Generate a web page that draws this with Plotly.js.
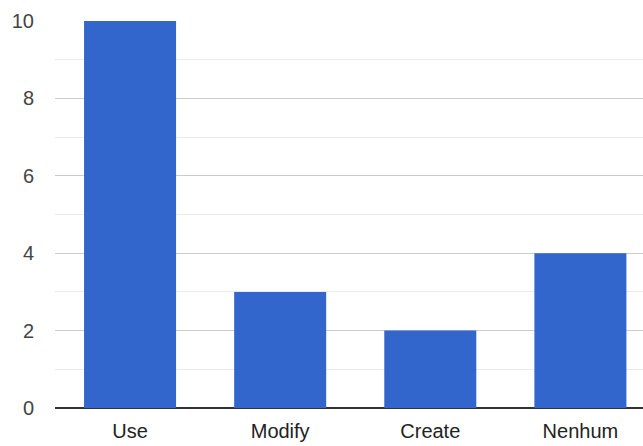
<!DOCTYPE html>
<html>
<head>
<meta charset="utf-8">
<script src="https://cdn.plot.ly/plotly-3.0.1.min.js"></script>
<style>
  html, body { margin: 0; padding: 0; background: #fff; }
  #chart { width: 643px; height: 446px; }
</style>
</head>
<body>
<div id="chart"></div>
<script>
// Categories and counts per answer
const categories = ["Use", "Modify", "Create", "Nenhum"];
const counts = [10, 3, 2, 4];
const yTicks = [0, 2, 4, 6, 8, 10];

const trace = {
  type: "bar",
  x: categories,
  y: counts,
  marker: { color: "#3366cc", line: { width: 0 } },
  hoverinfo: "x+y"
};

const layout = {
  width: 643,
  height: 446,
  margin: { l: 55, r: 0, t: 21, b: 38, pad: 0 },
  paper_bgcolor: "#ffffff",
  plot_bgcolor: "#ffffff",
  showlegend: false,
  bargap: 0.387,
  font: { family: "Liberation Sans, Arial, sans-serif", size: 20, color: "#444444" },
  xaxis: {
    type: "category",
    range: [-0.5, 3.417],
    showgrid: false,
    zeroline: false,
    showline: false,
    ticks: "",
    ticklabelstandoff: 9,
    tickfont: { size: 20, color: "#222222" },
    fixedrange: true
  },
  yaxis: {
    range: [0, 10],
    tickvals: yTicks,
    ticktext: yTicks.map(String),
    showgrid: true,
    gridcolor: "#cccccc",
    gridwidth: 1,
    minor: { dtick: 1, showgrid: true, gridcolor: "#ebebeb", gridwidth: 1 },
    zeroline: true,
    zerolinecolor: "#333333",
    zerolinewidth: 1.5,
    showline: false,
    ticks: "",
    ticklabelstandoff: 20,
    tickfont: { size: 20, color: "#444444" },
    fixedrange: true
  }
};

Plotly.newPlot("chart", [trace], layout, { displayModeBar: false, staticPlot: true });
</script>
</body>
</html>
